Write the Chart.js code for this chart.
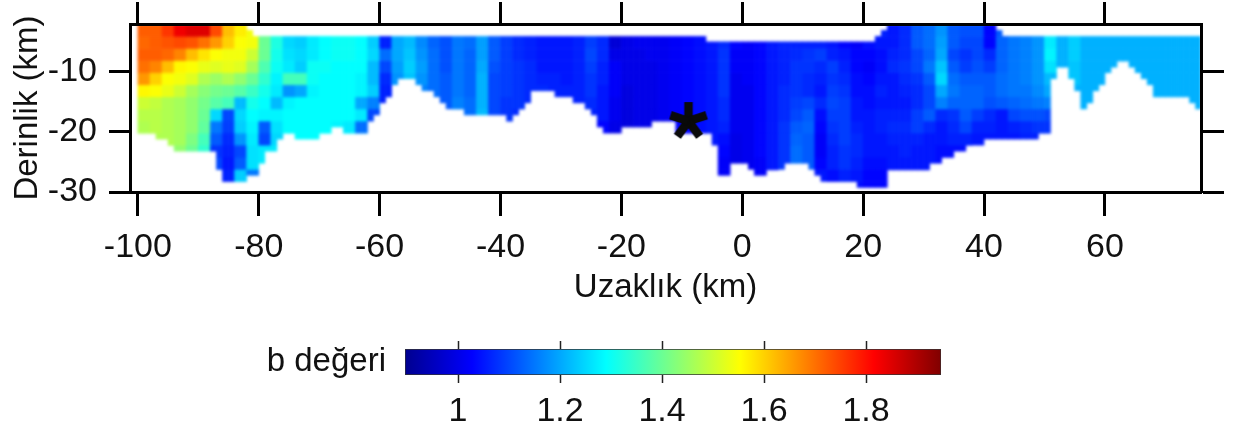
<!DOCTYPE html>
<html>
<head>
<meta charset="utf-8">
<style>
  html, body { margin: 0; background: #fff; }
  #wrap { position: relative; width: 1239px; height: 434px; overflow: hidden; }
  canvas { position: absolute; left: 0; }
</style>
<script src="https://cdn.jsdelivr.net/npm/chart.js@4/dist/chart.umd.min.js"></script>
</head>
<body>
<div id="wrap">
  <canvas id="section" width="1239" height="434" style="top:0"></canvas>
  <canvas id="scalebar" width="1239" height="104" style="top:330px"></canvas>
</div>
<script>
const _ = null;

// Tick labels
const xTicks = [-100, -80, -60, -40, -20, 0, 20, 40, 60];
const yTicks = [-30, -20, -10];
const barTicks = [1, 1.2, 1.4, 1.6, 1.8];

// Section outline, km: depth applies from each break to the next one
const topBreaks = [-100, -82, -81, -6, 22, 23, 24, 42, 43];
const topDepths = [-2.2, -3.2, -4.2, -5.1, -4.2, -3.2, -2.2, -3.2, -4.2];
const bottomBreaks = [-100, -97, -95, -94, -88, -87, -86, -82, -80, -79, -77, -76, -74, -70, -68, -66, -62, -61, -60, -59, -58, -57,
  -54, -53, -51, -50, -49, -46, -39, -38, -37, -36, -35, -31, -29, -26, -25, -24, -23, -20, -15, -11, -5, -4, -2, 1, 2, 4, 7, 11, 12, 13,
  19, 24, 31, 33, 35, 37, 40, 49, 51, 52, 54, 55, 56, 57, 58, 59, 60, 61, 62, 64, 65, 66, 67, 68, 74, 75];
const bottomDepths = [-20.3, -21.3, -22.3, -23.3, -23.3, -26.3, -28.3, -27.3, -25.3, -23.3, -21.3, -20.3, -21.3, -20.3, -19.3, -20.3, -18.3, -17.3, -15.3, -14.3, -12.3, -11.3,
  -12.3, -13.3, -14.3, -15.3, -16.3, -17.3, -18.3, -17.3, -16.3, -15.3, -13.3, -14.3, -15.3, -16.3, -17.3, -19.3, -20.3, -19.3, -18.3, -20.3, -26.4, -27.3, -25.3, -26.4, -27.3, -26.4, -25.3, -26.4, -27.3, -28.3,
  -29.3, -26.4, -25.3, -24.3, -23.3, -22.3, -21.3, -20.3, -11.3, -9.4, -11.3, -13.3, -16.3, -15.3, -13.3, -12.3, -10.3, -9.4, -8.4, -9.4, -10.3, -11.3, -12.3, -14.3, -15.3, -16.3];

// Grid of the b value map
const cellColumns = [-100, -98, -96, -94, -92, -90, -88, -86, -84, -82, -80, -78, -76, -74, -72, -70, -68, -66, -64, -62,
  -60, -58, -56, -54, -52, -50, -48, -46, -44, -42, -40, -38, -36, -34, -32, -30, -28, -26, -24, -22,
  -20, -18, -16, -14, -12, -10, -8, -6, -4, -2, 0, 2, 4, 6, 8, 10, 12, 14, 16, 18,
  20, 22, 24, 26, 28, 30, 32, 34, 36, 38, 40, 42, 44, 46, 48, 50, 52, 54, 56, 58, 60, 62, 64, 66, 68, 70, 72, 74];
const rowEdges = [-2.2, -4.2, -6.2, -8.2, -10.2, -12.2, -14.2, -16.2, -18.2, -20.2, -22.2, -24.2, -26.2, -28.2, -30.2];

// b value per column, one list for each depth row
const bRow1 = [1.72,1.72,1.76,1.83,1.85,1.85,1.74,1.62,1.57,1.54, _,_,_,_,_,_,_,_,_,_,
  _,_,_,_,_,_,_,_,_,_, _,_,_,_,_,_,_,_,_,_,
  _,_,_,_,_,_,_,_,_,_, _,_,_,_,_,_,_,_,_,_,
  _,1.06,1.05,1.07,1.12,1.14,1.18,1.12,1.11,1.11, 1.03,1.12,_,_,_,_,_,_,_,_, _,_,_,_,_,_,_,_];
const bRow2 = [1.71,1.72,1.73,1.74,1.73,1.70,1.66,1.60,1.55,1.54, 1.40,1.32,1.25,1.24,1.27,1.29,1.30,1.30,1.29,1.24,
  1.06,1.20,1.22,1.17,1.13,1.11,1.15,1.14,1.19,1.12, 1.09,1.07,1.06,1.05,1.05,1.05,1.06,1.09,1.07,0.98,
  1.00,1.01,1.01,1.01,1.02,1.03,1.04,1.05,1.07,1.03, 1.02,1.03,1.05,1.06,1.06,1.06,1.06,1.05,1.03,1.02,
  1.04,1.05,1.05,1.07,1.12,1.14,1.19,1.12,1.10,1.10, 1.03,1.13,1.15,1.16,1.18,1.27,1.21,1.24,1.21,1.21, 1.21,1.21,1.21,1.21,1.21,1.21,1.21,1.21];
const bRow3 = [1.72,1.72,1.71,1.68,1.62,1.58,1.55,1.54,1.54,1.50, 1.40,1.31,1.26,1.25,1.27,1.29,1.30,1.30,1.29,1.25,
  1.14,1.20,1.23,1.18,1.14,1.11,1.15,1.13,1.19,1.12, 1.09,1.07,1.06,1.05,1.05,1.05,1.06,1.10,1.07,1.00,
  1.00,1.00,1.01,1.01,1.02,1.03,1.04,1.05,1.08,1.02, 1.02,1.03,1.05,1.06,1.07,1.08,1.09,1.06,1.05,1.03,
  1.03,1.04,1.06,1.07,1.10,1.13,1.20,1.10,1.08,1.10, 1.07,1.13,1.15,1.16,1.18,1.28,1.21,1.24,1.21,1.21, 1.21,1.21,1.21,1.21,1.21,1.21,1.21,1.21];
const bRow4 = [1.70,1.68,1.62,1.56,1.55,1.53,1.52,1.53,1.52,1.46, 1.37,1.30,1.27,1.24,1.30,1.30,1.29,1.29,1.29,1.22,
  1.10,1.19,1.24,1.19,1.14,1.11,1.15,1.13,1.20,1.11, 1.09,1.08,1.07,1.05,1.05,1.05,1.06,1.09,1.06,1.02,
  1.00,1.00,1.00,1.01,1.02,1.03,1.04,1.05,1.08,1.02, 1.02,1.03,1.05,1.06,1.08,1.08,1.07,1.09,1.06,1.03,
  1.02,1.04,1.07,1.08,1.10,1.15,1.23,1.12,1.09,1.11, 1.09,1.13,1.15,1.16,1.18,1.26,1.21,1.23,1.21,1.21, 1.21,1.21,1.21,1.21,1.21,1.21,1.21,1.21];
const bRow5 = [1.66,1.60,1.55,1.54,1.52,1.47,1.45,1.47,1.44,1.40, 1.34,1.28,1.36,1.36,1.30,1.29,1.29,1.29,1.28,1.22,
  1.07,1.18,1.23,1.18,1.14,1.12,1.15,1.13,1.21,1.10, 1.09,1.08,1.07,1.06,1.06,1.05,1.06,1.08,1.06,1.02,
  1.00,1.00,1.00,1.01,1.02,1.03,1.04,1.05,1.08,1.01, 1.02,1.03,1.05,1.06,1.08,1.07,1.06,1.08,1.07,1.04,
  1.03,1.05,1.05,1.07,1.08,1.12,1.25,1.14,1.12,1.12, 1.12,1.14,1.15,1.16,1.18,1.22,1.21,1.23,1.21,1.21, 1.21,1.21,1.21,1.21,1.21,1.21,1.21,1.21];
const bRow6 = [1.56,1.55,1.53,1.50,1.46,1.43,1.41,1.40,1.38,1.35, 1.31,1.27,1.18,1.20,1.28,1.29,1.29,1.29,1.28,1.24,
  1.06,1.17,_,1.16,1.14,1.12,1.15,1.13,1.21,1.10, 1.09,1.08,1.07,1.07,1.06,1.06,1.06,1.08,1.05,1.02,
  0.99,1.00,1.00,1.01,1.02,1.03,1.04,1.05,1.08,1.01, 1.01,1.03,1.05,1.07,1.08,1.07,1.05,1.09,1.08,1.04,
  1.04,1.06,1.05,1.06,1.07,1.10,1.20,1.15,1.13,1.13, 1.12,1.14,1.15,1.15,1.17,1.20,_,1.21,1.21,1.21, 1.21,1.21,1.21,1.21,1.21,1.21,1.21,1.21];
const bRow7 = [1.50,1.49,1.47,1.46,1.44,1.41,1.38,1.36,1.22,1.31, 1.29,1.22,1.28,1.29,1.29,1.29,1.29,1.29,1.20,1.16,
  1.06,1.15,_,_,_,1.12,1.16,1.14,1.21,1.10, 1.08,1.08,1.07,_,_,_,1.06,1.07,1.05,1.01,
  0.99,1.00,1.00,1.01,1.02,1.03,1.04,1.05,1.07,1.01, 1.01,1.03,1.05,1.07,1.09,1.10,1.07,1.10,1.09,1.05,
  1.04,1.05,1.05,1.05,1.07,1.10,1.16,1.13,1.13,1.13, 1.11,1.12,1.13,1.14,1.15,1.16,_,1.21,1.21,_, _,_,_,_,1.21,1.21,1.21,1.21];
const bRow8 = [1.48,1.48,1.47,1.46,1.44,1.40,1.25,1.10,1.25,1.29, 1.28,1.28,1.29,1.29,1.29,1.29,1.29,1.29,1.27,1.10,
  _,_,_,_,_,_,1.16,1.14,1.22,1.10, 1.08,1.07,_,_,_,_,_,1.06,1.05,1.01,
  0.99,1.00,1.00,1.01,1.02,1.03,1.04,1.05,1.07,1.01, 1.01,1.03,1.05,1.07,1.10,1.12,1.04,1.09,1.09,1.05,
  1.05,1.06,1.06,1.06,1.09,1.12,1.07,1.08,1.12,1.09, 1.07,1.05,1.10,1.11,1.11,1.10,_,_,_,_, _,_,_,_,_,_,_,_];
const bRow9 = [1.47,1.48,1.47,1.46,1.44,1.39,1.15,1.09,1.24,1.28, 1.12,1.26,1.29,1.29,1.29,1.29,1.28,1.27,1.14,1.14,
  _,_,_,_,_,_,_,_,_,_, 1.08,1.07,_,_,_,_,_,_,1.03,1.00,
  0.99,1.00,1.00,1.01,1.02,1.03,1.04,1.05,1.06,1.01, 1.01,1.03,1.05,1.08,1.12,1.13,1.03,1.08,1.09,1.06,
  1.05,1.06,1.07,1.07,1.09,1.07,1.05,1.07,1.10,1.06, 1.06,1.05,1.06,1.07,1.08,1.08,_,_,_,_, _,_,_,_,_,_,_,_];
const bRow10 = [1.46,1.47,1.47,1.46,1.42,1.36,1.12,1.07,1.18,1.27, 1.10,1.25,1.28,1.29,1.29,1.29,1.29,1.29,1.29,1.29,
  _,_,_,_,_,_,_,_,_,_, _,_,_,_,_,_,_,_,_,_,
  _,_,_,_,1.02,1.03,1.04,1.05,1.04,1.00, 1.01,1.03,1.05,1.08,1.13,1.12,1.02,1.07,1.09,1.07,
  1.05,1.05,1.06,1.06,1.06,1.05,1.05,1.06,1.06,1.05, 1.05,1.05,1.05,1.06,1.06,1.06,_,_,_,_, _,_,_,_,_,_,_,_];
const bRow11 = [_,_,1.46,1.44,1.40,1.34,1.08,1.06,1.10,1.26, 1.27,1.27,_,_,_,_,_,_,_,_,
  _,_,_,_,_,_,_,_,_,_, _,_,_,_,_,_,_,_,_,_,
  _,_,_,_,_,_,_,_,1.03,1.00, 1.01,1.03,1.05,1.08,1.14,1.12,1.02,1.06,1.08,1.07,
  1.05,1.05,1.05,1.06,1.05,1.05,1.04,1.04,1.04,_, _,_,_,_,_,_,_,_,_,_, _,_,_,_,_,_,_,_];
const bRow12 = [_,_,_,_,_,_,1.10,1.05,1.12,1.26, 1.27,_,_,_,_,_,_,_,_,_,
  _,_,_,_,_,_,_,_,_,_, _,_,_,_,_,_,_,_,_,_,
  _,_,_,_,_,_,_,_,1.02,1.00, 1.01,1.02,1.05,1.08,1.14,1.12,1.03,1.06,1.08,1.06,
  1.04,1.04,1.05,1.05,1.05,1.05,1.04,1.04,_,_, _,_,_,_,_,_,_,_,_,_, _,_,_,_,_,_,_,_];
const bRow13 = [_,_,_,_,_,_,1.12,1.06,1.24,1.15, _,_,_,_,_,_,_,_,_,_,
  _,_,_,_,_,_,_,_,_,_, _,_,_,_,_,_,_,_,_,_,
  _,_,_,_,_,_,_,_,1.02,0.99, _,1.02,1.04,_,_,_,1.05,1.04,1.06,1.05,
  1.03,1.03,1.04,1.04,1.04,1.04,_,_,_,_, _,_,_,_,_,_,_,_,_,_, _,_,_,_,_,_,_,_];
const bRow14 = [_,_,_,_,_,_,_,1.06,1.20,1.12, _,_,_,_,_,_,_,_,_,_,
  _,_,_,_,_,_,_,_,_,_, _,_,_,_,_,_,_,_,_,_,
  _,_,_,_,_,_,_,_,_,_, _,_,_,_,_,_,_,1.04,1.05,1.04,
  1.03,1.03,_,_,_,_,_,_,_,_, _,_,_,_,_,_,_,_,_,_, _,_,_,_,_,_,_,_];
const bRows = [bRow1, bRow2, bRow3, bRow4, bRow5, bRow6, bRow7, bRow8, bRow9, bRow10, bRow11, bRow12, bRow13, bRow14];

// Star marker
const starX = [-8.9];
const starY = [-18.1];

// Colour bar range and jet stops
const barRange = [0.896, 1.947];
const jetPositions = [0, 0.125, 0.375, 0.625, 0.875, 1];
const jetColors = [[0, 0, 143], [0, 0, 255], [0, 255, 255], [255, 255, 0], [255, 0, 0], [128, 0, 0]];

const fontFamily = "'Liberation Sans', Arial, sans-serif";
const tickFont = { family: fontFamily, size: 34 };
const titleFont = { family: fontFamily, size: 33 };
const inkColor = "#111";

function jetColor(b) {
  const t = Math.min(1, Math.max(0, (b - barRange[0]) / (barRange[1] - barRange[0])));
  let i = 0;
  while (i < jetPositions.length - 2 && t > jetPositions[i + 1]) i += 1;
  const f = (t - jetPositions[i]) / (jetPositions[i + 1] - jetPositions[i]);
  const rgb = jetColors[i].map((c, k) => Math.round(c + (jetColors[i + 1][k] - c) * f));
  return `rgb(${rgb[0]},${rgb[1]},${rgb[2]})`;
}

function lookup(breaks, depths, x) {
  let i = 0;
  while (i < breaks.length - 1 && x >= breaks[i + 1]) i += 1;
  return depths[i];
}

// 1 km wide strips, clipped to the section outline
function rowDataset(row, r) {
  const data = [];
  const colors = [];
  row.forEach((b, c) => {
    if (b === null) return;
    [0, 1].forEach((k) => {
      const x = cellColumns[c] + k;
      const top = Math.min(rowEdges[r], lookup(topBreaks, topDepths, x));
      const bottom = Math.max(rowEdges[r + 1] - 0.1, lookup(bottomBreaks, bottomDepths, x));
      if (top <= bottom) return;
      data.push({ x: x + 0.5, y: [bottom, top] });
      colors.push(jetColor(b));
    });
  });
  return {
    data,
    backgroundColor: colors,
    borderWidth: 0,
    grouped: false,
    barPercentage: 1.1,
    categoryPercentage: 1
  };
}

function starImage() {
  const size = 44;
  const mark = document.createElement("canvas");
  mark.width = size;
  mark.height = size;
  const ctx = mark.getContext("2d");
  ctx.strokeStyle = "#0a0a0a";
  ctx.lineWidth = 8.5;
  ctx.translate(size / 2, size / 2 + 1);
  for (let a = 0; a < 5; a += 1) {
    ctx.beginPath();
    ctx.moveTo(0, 0);
    ctx.lineTo(0, -19);
    ctx.stroke();
    ctx.rotate((Math.PI * 2) / 5);
  }
  return mark;
}

function setTicks(values) {
  return (scale) => {
    scale.ticks = values.map((value) => ({ value }));
  };
}

// Fixed axis size, and no extra room for half a tick label
function fixSize(prop, size) {
  return (scale) => {
    scale[prop] = size;
    scale.paddingTop = 0;
    scale.paddingBottom = 0;
    scale.paddingLeft = 0;
    scale.paddingRight = 0;
  };
}

function sharedAxis(tickLength, size, prop, values, extra) {
  return Object.assign({
    type: "linear",
    offset: false,
    afterBuildTicks: setTicks(values),
    afterFit: fixSize(prop, size),
    border: { display: true, color: "#000", width: 3, z: 1 },
    grid: { offset: false, drawOnChartArea: false, tickLength, tickWidth: 3, tickColor: "#000" },
    ticks: { display: false }
  }, extra);
}

const labelTicks = { display: true, font: tickFont, color: inkColor, maxRotation: 0, autoSkip: false, callback: (v) => String(v) };

// Soft edges between map cells, the source image is a blurred scan.
// Runs once the cells are down, just before the star.
const softCells = {
  id: "softCells",
  beforeDatasetDraw(chart, args) {
    if (args.meta.type !== "scatter") return;
    const { ctx, canvas, width, height, chartArea: area } = chart;
    const copy = document.createElement("canvas");
    copy.width = canvas.width;
    copy.height = canvas.height;
    copy.getContext("2d").drawImage(canvas, 0, 0);
    ctx.save();
    ctx.beginPath();
    ctx.rect(area.left, area.top, area.width, area.height);
    ctx.clip();
    ctx.clearRect(area.left, area.top, area.width, area.height);
    ctx.filter = "blur(1.8px)";
    ctx.drawImage(copy, 0, 0, width, height);
    ctx.restore();
  }
};

new Chart(document.getElementById("section"), {
  type: "bar",
  plugins: [softCells],
  data: {
    datasets: bRows.map(rowDataset).concat([{
      type: "scatter",
      data: starX.map((x, i) => ({ x, y: starY[i] })),
      pointStyle: starImage(),
      order: -1
    }])
  },
  options: {
    responsive: false,
    animation: false,
    events: [],
    layout: { autoPadding: false },
    plugins: { legend: { display: false }, tooltip: { enabled: false } },
    scales: {
      x: sharedAxis(24, 242, "height", xTicks, {
        position: "bottom", min: -101.3, max: 75.9,
        ticks: Object.assign({}, labelTicks, { padding: 11 }),
        title: { display: true, text: "Uzaklık (km)", font: titleFont, color: inkColor, padding: { top: 0, bottom: 126 } }
      }),
      xTop: sharedAxis(22, 24, "height", xTicks, { position: "top", min: -101.3, max: 75.9 }),
      y: sharedAxis(21, 130, "width", yTicks, {
        position: "left", min: -30, max: -2.2,
        ticks: Object.assign({}, labelTicks, { padding: 12 }),
        title: { display: true, text: "Derinlik (km)", font: titleFont, color: inkColor, padding: { top: 8, bottom: 0 } }
      }),
      yRight: sharedAxis(23, 38, "width", yTicks, { position: "right", min: -30, max: -2.2 })
    }
  }
});

// Colour bar
function barGradient(context) {
  const { chart } = context;
  if (!chart.chartArea) return "#00f";
  const { left, right } = chart.chartArea;
  const gradient = chart.ctx.createLinearGradient(left, 0, right, 0);
  jetPositions.forEach((p, i) => {
    gradient.addColorStop(p, `rgb(${jetColors[i].join(",")})`);
  });
  return gradient;
}

new Chart(document.getElementById("scalebar"), {
  type: "bar",
  data: {
    labels: ["b değeri"],
    datasets: [{
      data: [barRange],
      backgroundColor: barGradient,
      borderColor: "#333",
      borderWidth: 1,
      borderSkipped: false,
      barPercentage: 1,
      categoryPercentage: 1
    }]
  },
  options: {
    indexAxis: "y",
    responsive: false,
    animation: false,
    events: [],
    layout: { autoPadding: false, padding: { right: 298 } },
    plugins: { legend: { display: false }, tooltip: { enabled: false } },
    scales: {
      x: {
        type: "linear",
        position: "bottom",
        min: barRange[0],
        max: barRange[1],
        afterBuildTicks: setTicks(barTicks),
        afterFit: fixSize("height", 59),
        border: { display: false },
        grid: { drawOnChartArea: false, tickLength: 8, tickWidth: 1.5, tickColor: "#222" },
        ticks: Object.assign({}, labelTicks, { padding: 8 })
      },
      xTop: {
        type: "linear",
        position: "top",
        min: barRange[0],
        max: barRange[1],
        afterBuildTicks: setTicks(barTicks),
        afterFit: fixSize("height", 19),
        border: { display: false },
        grid: { drawOnChartArea: false, tickLength: 8, tickWidth: 1.5, tickColor: "#222" },
        ticks: { display: false }
      },
      y: {
        type: "category",
        position: "left",
        afterFit: fixSize("width", 405),
        border: { display: false },
        grid: { display: false },
        ticks: { font: titleFont, color: inkColor, padding: 11 }
      }
    }
  }
});
</script>
</body>
</html>
